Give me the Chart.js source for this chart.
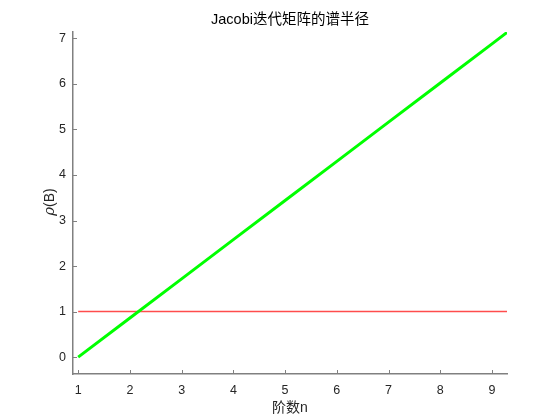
<!DOCTYPE html>
<html>
<head>
<meta charset="utf-8">
<script src="https://cdn.jsdelivr.net/npm/chart.js@4"></script>
<style>
html,body{margin:0;padding:0;background:#fff;}
#wrap{width:560px;height:420px;position:relative;}
</style>
</head>
<body>
<div id="wrap"><canvas id="c" width="560" height="420"></canvas></div>
<script>
// ---- data ----
const orderN = [1, 2, 3, 4, 5, 6, 7, 8, 9, 9.29];
const spectralRadius = [0, 0.86, 1.72, 2.58, 3.44, 4.30, 5.16, 6.02, 6.88, 7.13];
const thresholdX = [1, 9.29];
const thresholdY = [1, 1];
const xTicks = [1, 2, 3, 4, 5, 6, 7, 8, 9];
const yTicks = [0, 1, 2, 3, 4, 5, 6, 7];
const chartTitle = 'Jacobi迭代矩阵的谱半径';
const xTitle = '阶数n';
const yTitle = 'ρ(B)';

const FONT = 'Arial, "Liberation Sans", "Noto Sans CJK SC", sans-serif';

const textPlugin = {
  id: 'textPlugin',
  afterDraw(chart) {
    const ctx = chart.ctx;
    const a = chart.chartArea;
    const xs = chart.scales.x, ys = chart.scales.y;
    ctx.save();
    // inward tick marks
    ctx.strokeStyle = '#808080';
    ctx.lineWidth = 1;
    xTicks.forEach(v => {
      const px = Math.round(xs.getPixelForValue(v)) + 0.5;
      ctx.beginPath(); ctx.moveTo(px, a.bottom); ctx.lineTo(px, a.bottom - 4); ctx.stroke();
    });
    yTicks.forEach(v => {
      const py = Math.round(ys.getPixelForValue(v)) + 0.5;
      ctx.beginPath(); ctx.moveTo(a.left, py); ctx.lineTo(a.left + 4, py); ctx.stroke();
    });
    const cx = (a.left + a.right) / 2;
    // title
    ctx.fillStyle = '#000';
    ctx.font = '14.5px ' + FONT;
    ctx.textAlign = 'center';
    ctx.textBaseline = 'middle';
    ctx.fillText(chartTitle, cx, 20);
    // x title
    ctx.fillStyle = '#262626';
    ctx.font = '14px ' + FONT;
    ctx.fillText(xTitle, cx, 408);
    // y title
    ctx.translate(50, 202);
    ctx.rotate(-Math.PI / 2);
    ctx.font = 'italic 15px "DejaVu Serif", serif';
    const rhoW = ctx.measureText('ρ').width;
    ctx.font = '14px ' + FONT;
    const restW = ctx.measureText('(B)').width;
    const total = rhoW + restW;
    ctx.textAlign = 'left';
    ctx.font = 'italic 15px "DejaVu Serif", serif';
    ctx.fillText(yTitle.charAt(0), -total / 2, 0);
    ctx.font = '14px ' + FONT;
    ctx.fillText(yTitle.slice(1), -total / 2 + rhoW, 0);
    ctx.restore();
  }
};

new Chart(document.getElementById('c'), {
  type: 'line',
  data: {
    datasets: [
      {
        data: orderN.map((n, i) => ({ x: n, y: spectralRadius[i] })),
        borderColor: '#00ff00',
        borderWidth: 3,
        pointRadius: 0,
        fill: false,
        tension: 0
      },
      {
        data: thresholdX.map((n, i) => ({ x: n, y: thresholdY[i] })),
        borderColor: '#ff4d4d',
        borderWidth: 1.5,
        pointRadius: 0,
        fill: false
      }
    ]
  },
  options: {
    responsive: false,
    animation: false,
    devicePixelRatio: 1,
    layout: { padding: { top: 32, right: 53, left: 0, bottom: 0 } },
    plugins: { legend: { display: false }, title: { display: false }, tooltip: { enabled: false } },
    scales: {
      x: {
        type: 'linear',
        min: 0.9,
        max: 9.29,
        afterBuildTicks: s => { s.ticks = xTicks.map(v => ({ value: v })); },
        afterFit: s => { s.height = 46; },
        grid: { display: false, drawTicks: false },
        border: { display: true, color: '#808080', width: 1.5 },
        ticks: { color: '#262626', font: { family: FONT, size: 12.5 }, padding: 9, maxRotation: 0 }
      },
      y: {
        type: 'linear',
        min: -0.37,
        max: 7.14,
        afterBuildTicks: s => { s.ticks = yTicks.map(v => ({ value: v })); },
        afterFit: s => { s.width = 73; },
        grid: { display: false, drawTicks: false },
        border: { display: true, color: '#808080', width: 1.5 },
        ticks: { color: '#262626', font: { family: FONT, size: 12.5 }, padding: 7 }
      }
    }
  },
  plugins: [textPlugin]
});
</script>
</body>
</html>
